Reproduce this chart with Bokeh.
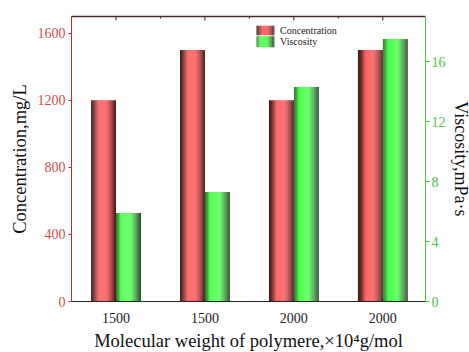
import numpy as np
from bokeh.plotting import figure
from bokeh.models import Range1d, LinearAxis, FixedTicker, ColumnDataSource
from bokeh.embed import file_html
from bokeh.resources import INLINE
from bokeh.core.properties import value

# ---- data ----
categories = ["1500", "1500", "2000", "2000"]
concentration = [1200, 1500, 1200, 1500]
viscosity = [5.9, 7.3, 14.3, 17.5]
series_names = ["Concentration", "Viscosity"]
x_title = "Molecular weight of polymere,\u00d710\u2074g/mol"
y_left_title = "Concentration,mg/L"
y_right_title = "Viscosity,mPa\u00b7s"

FONT = "Liberation Serif"
RED_B = np.array([255, 74, 74])
RED_D = np.array([40, 26, 26])
GRN_B = np.array([68, 255, 68])
GRN_D = np.array([38, 40, 38])
RED_PROF = ([0, 0.08, 0.2, 0.32, 0.62, 0.78, 0.9, 1.0], [0.08, 0.2, 0.55, 1.0, 1.0, 0.65, 0.35, 0.1])
GRN_PROF = ([0, 0.1, 0.2, 0.6, 0.75, 0.9, 1.0], [0.35, 0.6, 1.0, 1.0, 0.65, 0.3, 0.08])
NSTRIP = 24

def hexcol(c):
    c = np.clip(np.round(c), 0, 255).astype(int)
    return "#%02x%02x%02x" % tuple(c)

def strip_colors(bright, dark, prof, n):
    ts = (np.arange(n) + 0.5) / n
    f = np.interp(ts, prof[0], prof[1])
    return [hexcol(dark + (bright - dark) * fi) for fi in f]

p = figure(frame_width=354, frame_height=285, output_backend="svg", toolbar_location=None,
           x_range=Range1d(0.5, 4.48), y_range=Range1d(0, 1700),
           min_border_left=71, min_border_right=40, min_border_top=16, min_border_bottom=48)
p.extra_y_ranges = {"visc": Range1d(0, 19)}
p.grid.visible = False
p.outline_line_color = None
p.background_fill_color = "white"

x_pos = np.arange(1, len(categories) + 1)
bw = 0.28

def gradient_bars(xl, xr, tops, colors, y_range_name="default"):
    n = len(colors)
    L, R, T, B, C = [], [], [], [], []
    for a, b, t in zip(xl, xr, tops):
        edges = np.linspace(a, b, n + 1)
        for i in range(n):
            L.append(edges[i]); R.append(edges[i + 1] + (b - a) * 0.002)
            T.append(t); B.append(0); C.append(colors[i])
    src = ColumnDataSource(dict(left=L, right=R, top=T, bottom=B, color=C))
    p.quad(left="left", right="right", top="top", bottom="bottom", fill_color="color",
           line_color=None, source=src, y_range_name=y_range_name)

red_cols = strip_colors(RED_B, RED_D, RED_PROF, NSTRIP)
grn_cols = strip_colors(GRN_B, GRN_D, GRN_PROF, NSTRIP)
gradient_bars(x_pos - bw, x_pos, concentration, red_cols)
gradient_bars(x_pos, x_pos + bw, viscosity, grn_cols, "visc")

# ---- manual legend (gradient swatches) ----
lg_x0, lg_x1 = 2.58, 2.78
lg_rows = [(1645, 1588), (1582, 1517)]
for (ytop, ybot), cols, name in zip(lg_rows, [red_cols, grn_cols], series_names):
    edges = np.linspace(lg_x0, lg_x1, len(cols) + 1)
    p.quad(left=edges[:-1], right=edges[1:] + 0.001, top=[ytop] * len(cols), bottom=[ybot] * len(cols),
           fill_color=cols, line_color=None)
    p.text(x=[lg_x1 + 0.065], y=[(ytop + ybot) / 2], text=[name], text_font=value(FONT),
           text_font_size="10px", text_baseline="middle", text_align="left", text_color="#222222")

# ---- top frame ticks (inward), drawn as dash markers clipped by the frame ----
y_top = p.y_range.end
p.scatter(x=x_pos, y=[y_top] * len(x_pos), marker="dash", size=8, angle=np.pi / 2,
          line_color="#222222", line_width=1)
p.scatter(x=x_pos[:-1] + 0.5, y=[y_top] * (len(x_pos) - 1), marker="dash", size=4, angle=np.pi / 2,
          line_color="#222222", line_width=1)

# ---- axes ----
xa = p.xaxis[0]
xa.ticker = FixedTicker(ticks=list(x_pos))
xa.major_label_overrides = {int(i): c for i, c in zip(x_pos, categories)}
xa.major_tick_in = 3
xa.major_tick_out = 0
xa.minor_tick_line_color = None
xa.axis_line_color = "#222222"
xa.major_tick_line_color = "#222222"
xa.major_label_text_font = FONT
xa.major_label_text_font_size = "14px"
xa.major_label_text_color = "#222222"
xa.major_label_standoff = 11
xa.axis_label = x_title
xa.axis_label_text_font = FONT
xa.axis_label_text_font_size = "18.5px"
xa.axis_label_text_font_style = "normal"
xa.axis_label_text_color = "#111111"
xa.axis_label_standoff = 5

LRED = "#c8282c"
ya = p.yaxis[0]
ya.ticker = FixedTicker(ticks=[0, 400, 800, 1200, 1600])
ya.axis_line_color = LRED
ya.major_tick_line_color = LRED
ya.major_tick_out = 3
ya.major_tick_in = 0
ya.minor_tick_line_color = None
ya.major_label_text_color = "#d24a4a"
ya.major_label_text_font = FONT
ya.major_label_text_font_size = "14px"
ya.major_label_standoff = 3
ya.axis_label = y_left_title
ya.axis_label_text_font = FONT
ya.axis_label_text_font_size = "18.5px"
ya.axis_label_text_font_style = "normal"
ya.axis_label_text_color = "#111111"
ya.axis_label_standoff = 5

GRN = "#3ec83e"
ra = LinearAxis(y_range_name="visc", ticker=FixedTicker(ticks=[0, 4, 8, 12, 16]))
ra.axis_line_color = GRN
ra.major_tick_line_color = GRN
ra.major_tick_out = 4
ra.major_tick_in = 0
ra.minor_tick_line_color = None
ra.major_label_text_color = "#44c844"
ra.major_label_text_font = FONT
ra.major_label_text_font_size = "14px"
ra.major_label_standoff = 2
ra.axis_label = y_right_title
ra.axis_label_text_font = FONT
ra.axis_label_text_font_size = "18px"
ra.axis_label_text_font_style = "normal"
ra.axis_label_text_color = "#111111"
ra.axis_label_standoff = 2
p.add_layout(ra, "right")

TOPC = "#4e2828"
ta = LinearAxis(ticker=FixedTicker(ticks=[]))
ta.axis_line_color = TOPC
ta.axis_line_width = 1.5
ta.major_tick_line_color = None
ta.minor_tick_line_color = None
ta.major_label_standoff = 0
p.add_layout(ta, "above")

open("out.html", "w").write(file_html(p, INLINE))
